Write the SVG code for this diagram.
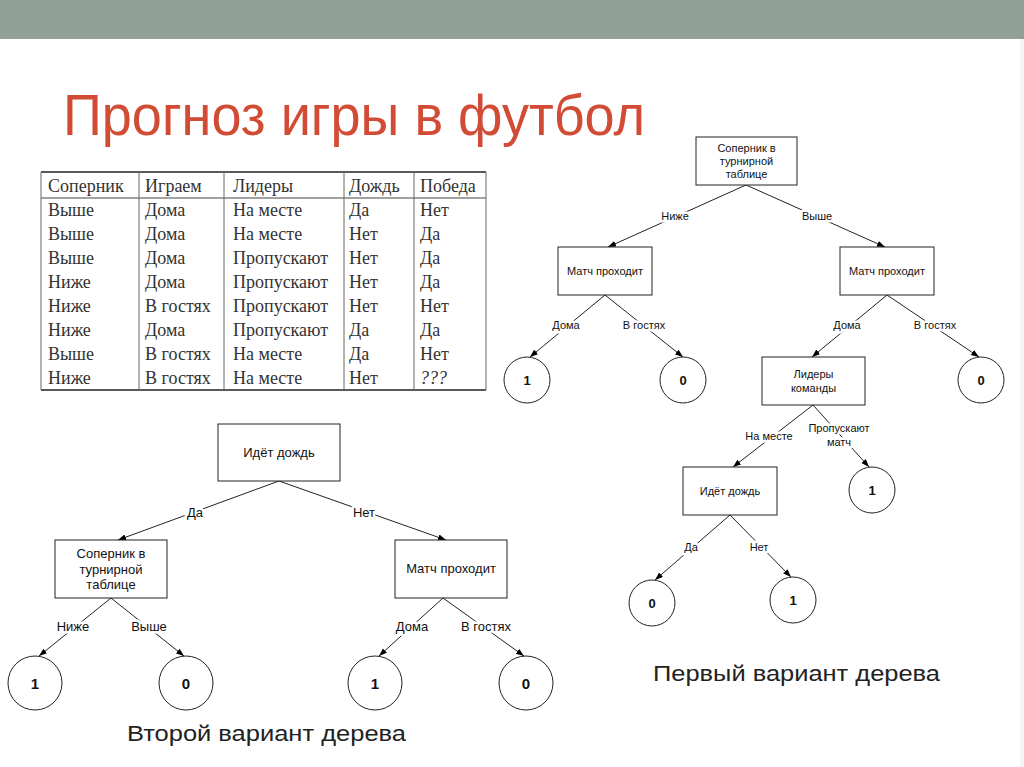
<svg xmlns="http://www.w3.org/2000/svg" width="1024" height="767" viewBox="0 0 1024 767">
<defs>
<marker id="arr" markerUnits="userSpaceOnUse" markerWidth="9" markerHeight="7" refX="8" refY="3" orient="auto">
<path d="M0,0 L8,3 L0,6 z" fill="#000"/>
</marker>
<style>
.box{fill:#fff;stroke:#222;stroke-width:1}
.circ{fill:#fff;stroke:#222;stroke-width:1}
.edge{stroke:#222;stroke-width:1;fill:none;marker-end:url(#arr)}
.t1{font-family:"Liberation Sans","DejaVu Sans",sans-serif;font-size:11px;fill:#111;text-anchor:middle}
.t2{font-family:"Liberation Sans","DejaVu Sans",sans-serif;font-size:13px;fill:#111;text-anchor:middle}
.lbl1{font-family:"Liberation Sans","DejaVu Sans",sans-serif;font-size:11px;fill:#111;text-anchor:middle;paint-order:stroke;stroke:#fff;stroke-width:5px;stroke-linejoin:round}
.lbl2{font-family:"Liberation Sans","DejaVu Sans",sans-serif;font-size:13px;fill:#111;text-anchor:middle;paint-order:stroke;stroke:#fff;stroke-width:5px;stroke-linejoin:round}
.d1{font-family:"Liberation Sans","DejaVu Sans",sans-serif;font-size:13px;font-weight:bold;fill:#111;text-anchor:middle}
.d2{font-family:"Liberation Sans","DejaVu Sans",sans-serif;font-size:15px;font-weight:bold;fill:#111;text-anchor:middle}
.tab{font-family:"Liberation Serif","DejaVu Serif",serif;font-size:18px;fill:#333}
.cap{font-family:"Liberation Sans","DejaVu Sans",sans-serif;font-size:22px;fill:#222}
</style>
</defs>
<rect width="1024" height="767" fill="#fff"/>
<rect x="0" y="0" width="1024" height="39" fill="#92A198"/>
<rect x="1020" y="39" width="4" height="728" fill="#f4f4f4"/>
<text x="63" y="135" font-family="Liberation Sans, Arial, sans-serif" font-size="58" fill="#D14B35" textLength="582" lengthAdjust="spacingAndGlyphs">Прогноз игры в футбол</text>

<g id="table">
<line x1="41" y1="172" x2="486" y2="172" stroke="#222" stroke-width="1.5"/>
<line x1="41" y1="198" x2="486" y2="198" stroke="#444" stroke-width="1"/>
<line x1="41" y1="390" x2="486" y2="390" stroke="#222" stroke-width="1.5"/>
<g stroke="#666" stroke-width="1">
<line x1="41" y1="172" x2="41" y2="390"/>
<line x1="139" y1="172" x2="139" y2="390"/>
<line x1="224" y1="172" x2="224" y2="390"/>
<line x1="344" y1="172" x2="344" y2="390"/>
<line x1="414" y1="172" x2="414" y2="390"/>
<line x1="486" y1="172" x2="486" y2="390"/>
</g>
<g class="tab">
<text x="48" y="192">Соперник</text><text x="145" y="192">Играем</text><text x="233" y="192">Лидеры</text><text x="349" y="192">Дождь</text><text x="420" y="192">Победа</text>
<text x="48" y="216">Выше</text><text x="145" y="216">Дома</text><text x="233" y="216">На месте</text><text x="349" y="216">Да</text><text x="420" y="216">Нет</text>
<text x="48" y="240">Выше</text><text x="145" y="240">Дома</text><text x="233" y="240">На месте</text><text x="349" y="240">Нет</text><text x="420" y="240">Да</text>
<text x="48" y="264">Выше</text><text x="145" y="264">Дома</text><text x="233" y="264">Пропускают</text><text x="349" y="264">Нет</text><text x="420" y="264">Да</text>
<text x="48" y="288">Ниже</text><text x="145" y="288">Дома</text><text x="233" y="288">Пропускают</text><text x="349" y="288">Нет</text><text x="420" y="288">Да</text>
<text x="48" y="312">Ниже</text><text x="145" y="312">В гостях</text><text x="233" y="312">Пропускают</text><text x="349" y="312">Нет</text><text x="420" y="312">Нет</text>
<text x="48" y="336">Ниже</text><text x="145" y="336">Дома</text><text x="233" y="336">Пропускают</text><text x="349" y="336">Да</text><text x="420" y="336">Да</text>
<text x="48" y="360">Выше</text><text x="145" y="360">В гостях</text><text x="233" y="360">На месте</text><text x="349" y="360">Да</text><text x="420" y="360">Нет</text>
<text x="48" y="384">Ниже</text><text x="145" y="384">В гостях</text><text x="233" y="384">На месте</text><text x="349" y="384">Нет</text><text x="420" y="384" font-style="italic">???</text>
</g>
</g>

<g id="connectors">
<line class="edge" x1="746" y1="185" x2="608" y2="247"/>
<line class="edge" x1="746" y1="185" x2="885" y2="247"/>
<line class="edge" x1="605" y1="295" x2="530" y2="357"/>
<line class="edge" x1="605" y1="295" x2="683" y2="357"/>
<line class="edge" x1="887" y1="295" x2="812" y2="357"/>
<line class="edge" x1="887" y1="295" x2="979" y2="357"/>
<line class="edge" x1="813" y1="405" x2="733" y2="467"/>
<line class="edge" x1="813" y1="405" x2="869" y2="467"/>
<line class="edge" x1="730" y1="515" x2="655" y2="580"/>
<line class="edge" x1="730" y1="515" x2="791" y2="577"/>
<line class="edge" x1="279" y1="481" x2="118" y2="540"/>
<line class="edge" x1="279" y1="481" x2="446" y2="540"/>
<line class="edge" x1="111" y1="598" x2="39" y2="656"/>
<line class="edge" x1="111" y1="598" x2="184" y2="656"/>
<line class="edge" x1="443" y1="598" x2="379" y2="656"/>
<line class="edge" x1="443" y1="598" x2="524" y2="656"/>
<text class="lbl1" x="675" y="220">Ниже</text>
<text class="lbl1" x="817" y="220">Выше</text>
<text class="lbl1" x="566" y="329">Дома</text>
<text class="lbl1" x="644" y="329">В гостях</text>
<text class="lbl1" x="847" y="329">Дома</text>
<text class="lbl1" x="935" y="329">В гостях</text>
<text class="lbl1" x="769" y="440">На месте</text>
<text class="lbl1" x="839" y="432">Пропускают</text>
<text class="lbl1" x="839" y="446">матч</text>
<text class="lbl1" x="691" y="551">Да</text>
<text class="lbl1" x="759" y="551">Нет</text>
<text class="lbl2" x="195" y="517">Да</text>
<text class="lbl2" x="364" y="517">Нет</text>
<text class="lbl2" x="73" y="631">Ниже</text>
<text class="lbl2" x="149" y="631">Выше</text>
<text class="lbl2" x="412" y="631">Дома</text>
<text class="lbl2" x="486" y="631">В гостях</text>
</g>

<g id="r-root"><rect class="box" x="696" y="137" width="101" height="48"/>
<text class="t1" x="746.5" y="152">Соперник в</text><text class="t1" x="746.5" y="165">турнирной</text><text class="t1" x="746.5" y="178">таблице</text></g>
<g id="r-match-left"><rect class="box" x="558" y="247" width="94" height="48"/><text class="t1" x="605" y="275">Матч проходит</text></g>
<g id="r-match-right"><rect class="box" x="840" y="247" width="94" height="48"/><text class="t1" x="887" y="275">Матч проходит</text></g>
<g id="r-leaf-1a"><circle class="circ" cx="527" cy="380" r="23"/><text class="d1" x="527" y="385">1</text></g>
<g id="r-leaf-0a"><circle class="circ" cx="683" cy="380" r="23"/><text class="d1" x="683" y="385">0</text></g>
<g id="r-leaf-0b"><circle class="circ" cx="981" cy="380" r="23"/><text class="d1" x="981" y="385">0</text></g>
<g id="r-leaders"><rect class="box" x="762" y="357" width="103" height="48"/>
<text class="t1" x="813.5" y="378">Лидеры</text><text class="t1" x="813.5" y="392">команды</text></g>
<g id="r-leaf-1b"><circle class="circ" cx="872" cy="490" r="23"/><text class="d1" x="872" y="495">1</text></g>
<g id="r-rain"><rect class="box" x="683" y="467" width="94" height="48"/><text class="t1" x="730" y="495">Идёт дождь</text></g>
<g id="r-leaf-0c"><circle class="circ" cx="652" cy="603" r="23"/><text class="d1" x="652" y="608">0</text></g>
<g id="r-leaf-1c"><circle class="circ" cx="793" cy="600" r="23"/><text class="d1" x="793" y="605">1</text></g>

<g id="l-root"><rect class="box" x="218" y="424" width="122" height="57"/><text class="t2" x="279" y="457">Идёт дождь</text></g>
<g id="l-rival"><rect class="box" x="55" y="540" width="112" height="58"/>
<text class="t2" x="111" y="558">Соперник в</text><text class="t2" x="111" y="574">турнирной</text><text class="t2" x="111" y="589">таблице</text></g>
<g id="l-match"><rect class="box" x="395" y="540" width="112" height="58"/><text class="t2" x="451" y="573">Матч проходит</text></g>
<g id="l-leaf-1a"><circle class="circ" cx="35" cy="683" r="27"/><text class="d2" x="35" y="689">1</text></g>
<g id="l-leaf-0a"><circle class="circ" cx="186" cy="683" r="27"/><text class="d2" x="186" y="689">0</text></g>
<g id="l-leaf-1b"><circle class="circ" cx="375" cy="683" r="27"/><text class="d2" x="375" y="689">1</text></g>
<g id="l-leaf-0b"><circle class="circ" cx="526" cy="683" r="27"/><text class="d2" x="526" y="689">0</text></g>

<text class="cap" x="653" y="681" textLength="287" lengthAdjust="spacingAndGlyphs">Первый вариант дерева</text>
<text class="cap" x="127" y="741" textLength="279" lengthAdjust="spacingAndGlyphs">Второй вариант дерева</text>
</svg>
